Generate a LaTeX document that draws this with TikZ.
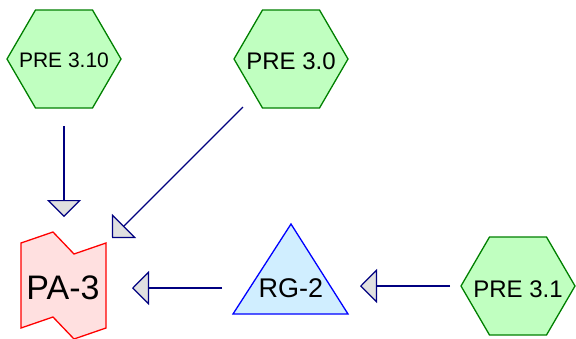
\documentclass[tikz,border=0pt]{standalone}
\usepackage{fontspec}
\setmainfont{Liberation Sans}
\usetikzlibrary{arrows.meta}
\definecolor{navy}{RGB}{0,0,128}
\definecolor{hexfill}{RGB}{192,255,192}
\definecolor{hexline}{RGB}{0,128,0}
\definecolor{trifill}{RGB}{208,238,255}
\definecolor{triline}{RGB}{0,0,255}
\definecolor{flagfill}{RGB}{255,224,224}
\definecolor{flagline}{RGB}{255,0,0}
\definecolor{tipfill}{RGB}{224,224,224}
\tikzset{
  hexshape/.style={draw=hexline,fill=hexfill,line width=1.3pt},
  conn/.style={draw=navy,line width=1.2pt,
    -{Triangle[length=17pt,width=34pt,fill=tipfill]}},
  lbl/.style={inner sep=0pt,text=black}
}
\begin{document}
\begin{tikzpicture}[x=1pt,y=-1pt]
\useasboundingbox (0,0) rectangle (576,338);
% hexagons
\foreach \cx/\cy in {64/59,291/59,518/286}{
  \draw[hexshape,shift={(\cx,\cy)}] (-57,0) -- (-28.5,-49) -- (28.5,-49) -- (57,0) -- (28.5,49) -- (-28.5,49) -- cycle;
}
\node[lbl,font=\fontsize{21}{24}\selectfont] (p310) at (64,60) {PRE 3.10};
\node[lbl,font=\fontsize{24}{28}\selectfont] (p30) at (291,61) {PRE 3.0};
\node[lbl,font=\fontsize{24}{28}\selectfont] (p31) at (518,289) {PRE 3.1};
% triangle RG-2
\draw[draw=triline,fill=trifill,line width=1.3pt] (291,224) -- (348,314) -- (233,314) -- cycle;
\node[lbl,font=\fontsize{27}{30}\selectfont] (rg) at (291,288) {RG-2};
% flag PA-3
\draw[draw=flagline,fill=flagfill,line width=1.3pt]
  (21,243) -- (53,232) -- (74,254) -- (106,243) -- (106,328) -- (74,339) -- (53,317) -- (21,328) -- cycle;
\node[lbl,font=\fontsize{34}{38}\selectfont] (pa) at (63,288) {PA-3};
% connector endpoints
\coordinate (s1) at (64,126);
\coordinate (e1) at (64,217);
\coordinate (s2) at (243,107);
\coordinate (e2) at (112,238);
\coordinate (s3) at (222,288);
\coordinate (e3) at (132,288);
\coordinate (s4) at (450,286);
\coordinate (e4) at (360,286);
\draw[conn] (s1) -- (e1);
\draw[conn] (s2) -- (e2);
\draw[conn] (s3) -- (e3);
\draw[conn] (s4) -- (e4);
\end{tikzpicture}
\end{document}
